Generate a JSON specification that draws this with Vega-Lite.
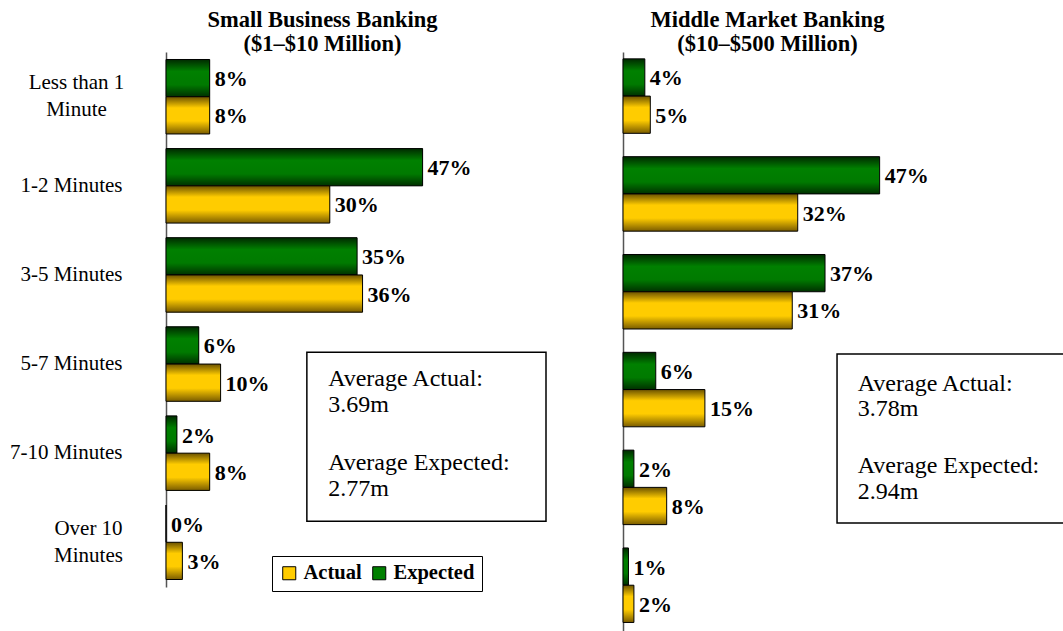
{
  "$schema": "https://vega.github.io/schema/vega-lite/v6.json",
  "background": "white",
  "padding": {"top": 8, "left": 5, "right": 5, "bottom": 5},
  "config": {"view": {"stroke": null}, "font": "Liberation Serif", "concat": {"spacing": 75}},
  "datasets": {
    "small": [
      {"category": "Less than 1 Minute", "series": "Expected", "value": 0.08},
      {"category": "Less than 1 Minute", "series": "Actual", "value": 0.08},
      {"category": "1-2 Minutes", "series": "Expected", "value": 0.47},
      {"category": "1-2 Minutes", "series": "Actual", "value": 0.30},
      {"category": "3-5 Minutes", "series": "Expected", "value": 0.35},
      {"category": "3-5 Minutes", "series": "Actual", "value": 0.36},
      {"category": "5-7 Minutes", "series": "Expected", "value": 0.06},
      {"category": "5-7 Minutes", "series": "Actual", "value": 0.10},
      {"category": "7-10 Minutes", "series": "Expected", "value": 0.02},
      {"category": "7-10 Minutes", "series": "Actual", "value": 0.08},
      {"category": "Over 10 Minutes", "series": "Expected", "value": 0.0},
      {"category": "Over 10 Minutes", "series": "Actual", "value": 0.03}
    ],
    "middle": [
      {"category": "Less than 1 Minute", "series": "Expected", "value": 0.04},
      {"category": "Less than 1 Minute", "series": "Actual", "value": 0.05},
      {"category": "1-2 Minutes", "series": "Expected", "value": 0.47},
      {"category": "1-2 Minutes", "series": "Actual", "value": 0.32},
      {"category": "3-5 Minutes", "series": "Expected", "value": 0.37},
      {"category": "3-5 Minutes", "series": "Actual", "value": 0.31},
      {"category": "5-7 Minutes", "series": "Expected", "value": 0.06},
      {"category": "5-7 Minutes", "series": "Actual", "value": 0.15},
      {"category": "7-10 Minutes", "series": "Expected", "value": 0.02},
      {"category": "7-10 Minutes", "series": "Actual", "value": 0.08},
      {"category": "Over 10 Minutes", "series": "Expected", "value": 0.01},
      {"category": "Over 10 Minutes", "series": "Actual", "value": 0.02}
    ],
    "small_box": [{"x": 0.258, "x2": 0.696, "top": 56.1, "bottom": 87.7}],
    "small_text": [
      {"text": "Average Actual:", "x": 0.297, "pos": 62.4},
      {"text": "3.69m", "x": 0.297, "pos": 67.3},
      {"text": "Average Expected:", "x": 0.297, "pos": 78.1},
      {"text": "2.77m", "x": 0.297, "pos": 83.0}
    ],
    "middle_box": [{"x": 0.392, "x2": 0.85, "top": 51.7, "bottom": 80.65}],
    "middle_text": [
      {"text": "Average Actual:", "x": 0.43, "pos": 58.0},
      {"text": "3.78m", "x": 0.43, "pos": 62.3},
      {"text": "Average Expected:", "x": 0.43, "pos": 72.1},
      {"text": "2.94m", "x": 0.43, "pos": 76.5}
    ]
  },
  "hconcat": [
    {
      "width": 380,
      "height": 535,
      "title": {"text": ["Small Business Banking", "($1–$10 Million)"], "font": "Liberation Serif", "fontSize": 22.5, "fontWeight": "bold", "color": "black", "anchor": "middle", "frame": "group", "dx": -33.5, "offset": -3, "lineHeight": 24},
      "layer": [
        {
          "data": {"name": "small_box"},
          "mark": {"type": "rect", "fill": "white", "fillOpacity": 0, "stroke": "black", "strokeWidth": 1.5},
          "encoding": {
            "x": {"field": "x", "type": "quantitative", "scale": {"domain": [0, 0.696], "nice": false, "zero": true}, "axis": null},
            "x2": {"field": "x2"},
            "y": {"field": "top", "type": "quantitative", "scale": {"domain": [0, 100], "reverse": true, "nice": false, "zero": false}, "axis": null},
            "y2": {"field": "bottom"}
          }
        },
        {
          "data": {"name": "small_text"},
          "mark": {"type": "text", "align": "left", "baseline": "alphabetic", "font": "Liberation Serif", "fontSize": 24, "color": "black"},
          "encoding": {
            "x": {"field": "x", "type": "quantitative", "scale": {"domain": [0, 0.696], "nice": false, "zero": true}, "axis": null},
            "y": {"field": "pos", "type": "quantitative", "scale": {"domain": [0, 100], "reverse": true, "nice": false, "zero": false}, "axis": null},
            "text": {"field": "text"}
          }
        },
        {
          "data": {"name": "small"},
          "encoding": {
            "y": {
              "field": "category", "type": "nominal",
              "sort": ["Less than 1 Minute", "1-2 Minutes", "3-5 Minutes", "5-7 Minutes", "7-10 Minutes", "Over 10 Minutes"],
              "scale": {"paddingInner": 0.164, "paddingOuter": 0.084},
              "axis": {
                "title": null, "ticks": false, "domainColor": "#555", "domainWidth": 1.5,
                "labelFont": "Liberation Serif", "labelFontSize": 21, "labelColor": "black", "labelLineHeight": 27,
                "labelBaseline": "middle",
                "labelExpr": "datum.value === 'Less than 1 Minute' ? ['Less than 1', 'Minute'] : (datum.value === 'Over 10 Minutes' ? ['Over 10', 'Minutes'] : datum.label)",
                "labelAlign": {"condition": {"test": "datum.value === 'Less than 1 Minute' || datum.value === 'Over 10 Minutes'", "value": "center"}, "value": "right"},
                "labelPadding": {"condition": [{"test": "datum.value === 'Less than 1 Minute'", "value": 90}, {"test": "datum.value === 'Over 10 Minutes'", "value": 78}], "value": 44},
                "labelOffset": {"condition": {"test": "datum.value === 'Less than 1 Minute' || datum.value === 'Over 10 Minutes'", "value": -13.5}, "value": 0},
                "minExtent": 161, "maxExtent": 161
              }
            },
            "yOffset": {"field": "series", "type": "nominal", "sort": ["Expected", "Actual"], "scale": {"paddingInner": 0, "paddingOuter": 0}},
            "x": {"field": "value", "type": "quantitative", "scale": {"domain": [0, 0.696], "nice": false, "zero": true}, "axis": null}
          },
          "layer": [
            {
              "mark": {"type": "bar"},
              "encoding": {
                "color": {
                  "field": "series", "type": "nominal",
                  "scale": {"domain": ["Actual", "Expected"], "range": ["#ffcc00", "#008000"]},
                  "legend": {
                    "title": null, "orient": "none", "legendX": 106, "legendY": 504, "direction": "horizontal",
                    "gridAlign": "none",
                    "symbolType": "square", "symbolSize": 170, "symbolStrokeColor": "black", "symbolStrokeWidth": 1, "symbolOpacity": 1,
                    "labelFont": "Liberation Serif", "labelFontSize": 20.5, "labelFontWeight": "bold", "labelColor": "black",
                    "labelOffset": 4, "columnPadding": 7, "padding": 7, "strokeColor": "black"
                  }
                }
              }
            },
            {
              "mark": {"type": "bar", "stroke": "black", "strokeWidth": 1},
              "encoding": {
                "fill": {
                  "condition": {"test": "datum.series === 'Actual'", "value": {"gradient": "linear", "x1": 0, "y1": 0, "x2": 0, "y2": 1, "stops": [{"offset": 0, "color": "#6b5200"}, {"offset": 0.3, "color": "#ffcc00"}, {"offset": 0.65, "color": "#ffcc00"}, {"offset": 1, "color": "#7a5c00"}]}},
                  "value": {"gradient": "linear", "x1": 0, "y1": 0, "x2": 0, "y2": 1, "stops": [{"offset": 0, "color": "#002a00"}, {"offset": 0.32, "color": "#008000"}, {"offset": 0.68, "color": "#007a00"}, {"offset": 1, "color": "#003000"}]}
                }
              }
            },
            {
              "mark": {"type": "text", "align": "left", "baseline": "middle", "dx": 5, "dy": 1, "font": "Liberation Serif", "fontSize": 22, "fontWeight": "bold", "color": "black"},
              "encoding": {"text": {"field": "value", "type": "quantitative", "format": ".0%"}}
            }
          ]
        }
      ],
      "resolve": {"scale": {"y": "independent"}}
    },
    {
      "width": 442,
      "height": 584,
      "title": {"text": ["Middle Market Banking", "($10–$500 Million)"], "font": "Liberation Serif", "fontSize": 22.5, "fontWeight": "bold", "color": "black", "anchor": "middle", "frame": "group", "dx": -76.5, "offset": -3, "lineHeight": 24},
      "layer": [
        {
          "data": {"name": "middle_box"},
          "mark": {"type": "rect", "fill": "white", "fillOpacity": 0, "stroke": "black", "strokeWidth": 1.5},
          "encoding": {
            "x": {"field": "x", "type": "quantitative", "scale": {"domain": [0, 0.8095], "nice": false, "zero": true}, "axis": null},
            "x2": {"field": "x2"},
            "y": {"field": "top", "type": "quantitative", "scale": {"domain": [0, 100], "reverse": true, "nice": false, "zero": false}, "axis": null},
            "y2": {"field": "bottom"}
          }
        },
        {
          "data": {"name": "middle_text"},
          "mark": {"type": "text", "align": "left", "baseline": "alphabetic", "font": "Liberation Serif", "fontSize": 24, "color": "black"},
          "encoding": {
            "x": {"field": "x", "type": "quantitative", "scale": {"domain": [0, 0.8095], "nice": false, "zero": true}, "axis": null},
            "y": {"field": "pos", "type": "quantitative", "scale": {"domain": [0, 100], "reverse": true, "nice": false, "zero": false}, "axis": null},
            "text": {"field": "text"}
          }
        },
        {
          "data": {"name": "middle"},
          "encoding": {
            "y": {
              "field": "category", "type": "nominal",
              "sort": ["Less than 1 Minute", "1-2 Minutes", "3-5 Minutes", "5-7 Minutes", "7-10 Minutes", "Over 10 Minutes"],
              "scale": {"paddingInner": 0.17, "paddingOuter": 0.07},
              "axis": {"title": null, "ticks": false, "labels": false, "domainColor": "#555", "domainWidth": 1.5, "minExtent": 0, "maxExtent": 0}
            },
            "yOffset": {"field": "series", "type": "nominal", "sort": ["Expected", "Actual"], "scale": {"paddingInner": 0, "paddingOuter": 0}},
            "x": {"field": "value", "type": "quantitative", "scale": {"domain": [0, 0.8095], "nice": false, "zero": true}, "axis": null}
          },
          "layer": [
            {
              "mark": {"type": "bar", "stroke": "black", "strokeWidth": 1},
              "encoding": {
                "fill": {
                  "condition": {"test": "datum.series === 'Actual'", "value": {"gradient": "linear", "x1": 0, "y1": 0, "x2": 0, "y2": 1, "stops": [{"offset": 0, "color": "#6b5200"}, {"offset": 0.3, "color": "#ffcc00"}, {"offset": 0.65, "color": "#ffcc00"}, {"offset": 1, "color": "#7a5c00"}]}},
                  "value": {"gradient": "linear", "x1": 0, "y1": 0, "x2": 0, "y2": 1, "stops": [{"offset": 0, "color": "#002a00"}, {"offset": 0.32, "color": "#008000"}, {"offset": 0.68, "color": "#007a00"}, {"offset": 1, "color": "#003000"}]}
                }
              }
            },
            {
              "mark": {"type": "text", "align": "left", "baseline": "middle", "dx": 5, "dy": 1, "font": "Liberation Serif", "fontSize": 22, "fontWeight": "bold", "color": "black"},
              "encoding": {"text": {"field": "value", "type": "quantitative", "format": ".0%"}}
            }
          ]
        }
      ],
      "resolve": {"scale": {"y": "independent"}}
    }
  ]
}
